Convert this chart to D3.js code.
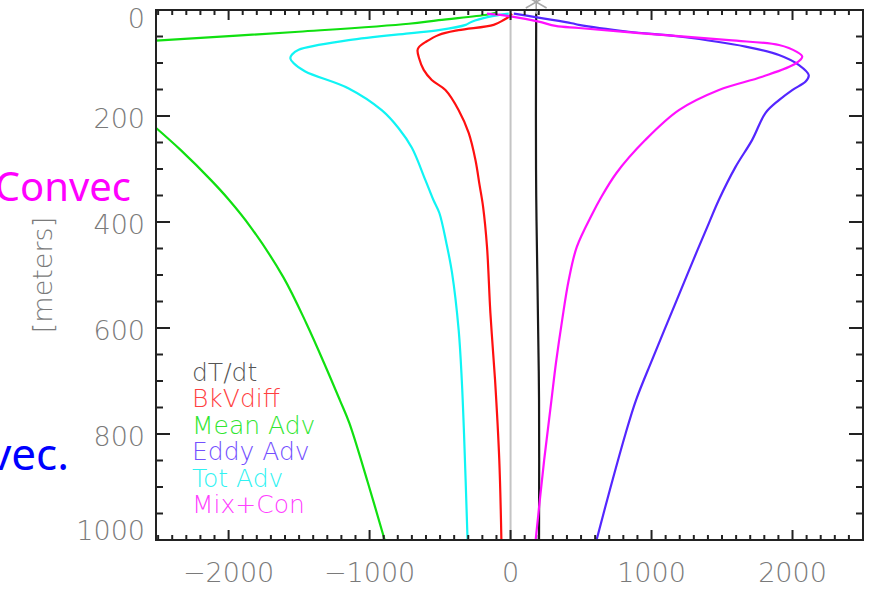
<!DOCTYPE html>
<html>
<head>
<meta charset="utf-8">
<script src="https://cdn.jsdelivr.net/npm/d3@7"></script>
<style>
  html, body { margin: 0; padding: 0; background: #fff; overflow: hidden; }
  svg { display: block; }
</style>
</head>
<body>
<svg id="chart" width="885" height="594"></svg>
<script>
// --- data: [depth (m), value]; null breaks the line where it leaves the frame
const dTdt    = [[5, 182], [200, 180], [350, 182], [500, 190], [736, 202], [1000, 202]];
const bkVdiff = [[7, 10], [13, -13], [19, -50], [28, -120], [38, -370], [47, -510], [60, -600], [70, -650],
                 [76, -660], [90, -650], [113, -616], [132, -559], [151, -462], [189, -368], [232, -297],
                 [283, -249], [330, -220], [371, -195], [447, -167], [572, -143], [698, -110], [849, -80], [1000, -65]];
const meanAdv = [[5, -100], [9, -169], [19, -510], [26, -722], [41, -1503], [58, -2530], [100, null],
                 [219, -2530], [264, -2341], [321, -2125], [358, -1998], [409, -1845], [504, -1612],
                 [591, -1449], [674, -1310], [736, -1211], [779, -1144], [891, -1013], [1000, -893]];
const eddyAdv = [[7, 23], [25, 434], [28, 484], [41, 839], [50, 1194], [69, 1667], [85, 1904], [104, 2046],
                 [123, 2115], [135, 2093], [151, 1998], [170, 1904], [194, 1809], [245, 1714], [296, 1596],
                 [358, 1478], [402, 1407], [477, 1288], [553, 1170], [660, 1004], [736, 890], [800, 815],
                 [900, 710], [1000, 610]];
const totAdv  = [[7, -13], [13, -155], [22, -275], [28, -318], [38, -510], [44, -722], [57, -1148], [75, -1503],
                 [84, -1550], [91, -1562], [100, -1540], [116, -1456], [148, -1148], [189, -914], [223, -794],
                 [260, -700], [321, -604], [358, -548], [383, -505], [440, -455], [496, -415], [604, -368],
                 [698, -346], [800, -330], [1000, -305]];
const mixCon  = [[7, -167], [12, 0], [22, 200], [30, 319], [34, 484], [44, 930], [57, 1549], [66, 1904],
                 [79, 2031], [88, 2069], [101, 2022], [126, 1785], [151, 1478], [189, 1194], [245, 957],
                 [308, 750], [358, 633], [383, 583], [447, 470], [509, 413], [585, 366], [666, 322],
                 [736, 290], [850, 238], [1000, 178]];

const seriesNames  = ["dT/dt", "BkVdiff", "Mean Adv", "Eddy Adv", "Tot Adv", "Mix+Con"];
const seriesData   = [dTdt, bkVdiff, meanAdv, eddyAdv, totAdv, mixCon];
const lineColors   = ["#1a1a1a", "#ff1010", "#10e010", "#5426ff", "#10f4f4", "#ff10ff"];
const legendColors = ["#555555", "#ff4040", "#30e630", "#7450ff", "#30f2f2", "#ff40ff"];

const xTickLabels = [-2000, -1000, 0, 1000, 2000];
const yTickLabels = [0, 200, 400, 600, 800, 1000];

// --- layout
const frame = { left: 156, right: 863, top: 10, bottom: 540 };

const svg = d3.select("#chart");

const x = d3.scaleLinear().domain([-2515, 2500]).range([frame.left, frame.right]);
const y = d3.scaleLinear().domain([0, 1000]).range([frame.top, frame.bottom]);

const axisColor = "#222";
const labelColor = "#7a7a7a";
const labelFont = "'DejaVu Sans', sans-serif";

// side texts from the slide, cut by the left border
svg.append("text")
  .attr("x", 131).attr("y", 201)
  .attr("text-anchor", "end")
  .style("font-family", "'Noto Sans', sans-serif")
  .style("font-size", "40px")
  .style("fill", "#ff00ff")
  .text("Convec");

svg.append("text")
  .attr("x", 69).attr("y", 470)
  .attr("text-anchor", "end")
  .style("font-family", "'Noto Sans', sans-serif")
  .style("font-size", "44px")
  .style("fill", "#0000ff")
  .text("vec.");

// clip for the curves
svg.append("defs").append("clipPath").attr("id", "plotClip")
  .append("rect")
  .attr("x", frame.left).attr("y", frame.top)
  .attr("width", frame.right - frame.left).attr("height", frame.bottom - frame.top);

const plot = svg.append("g").attr("clip-path", "url(#plotClip)");

// zero line
plot.append("line")
  .attr("x1", x(0)).attr("x2", x(0))
  .attr("y1", frame.top).attr("y2", frame.bottom)
  .attr("stroke", "#c4c4c4").attr("stroke-width", 2);

const line = d3.line()
  .defined((d) => d[1] != null)
  .x((d) => x(d[1]))
  .y((d) => y(d[0]))
  .curve(d3.curveCatmullRom.alpha(0.5));

seriesData.forEach((data, i) => {
  plot.append("path")
    .datum(data)
    .attr("d", line)
    .attr("fill", "none")
    .attr("stroke", lineColors[i])
    .attr("stroke-width", 2.2)
    .attr("stroke-linejoin", "round");
});

// asterisk marker at the top of dT/dt
const ast = svg.append("g")
  .attr("transform", `translate(${x(dTdt[0][1])},${frame.top - 8})`)
  .attr("stroke", "#a8a8a8").attr("stroke-width", 1.6);
[0, 60, 120].forEach((a) => {
  const r = 12, t = (a * Math.PI) / 180;
  ast.append("line")
    .attr("x1", -r * Math.sin(t)).attr("y1", -r * Math.cos(t))
    .attr("x2", r * Math.sin(t)).attr("y2", r * Math.cos(t));
});

// --- axes (frame + ticks on all four sides)
const axes = svg.append("g").attr("stroke", axisColor).attr("stroke-width", 2);

axes.append("rect")
  .attr("x", frame.left).attr("y", frame.top)
  .attr("width", frame.right - frame.left).attr("height", frame.bottom - frame.top)
  .attr("fill", "none");

const xMinor = d3.range(-2500, 2501, 100);
xMinor.forEach((v) => {
  const len = v % 1000 === 0 ? 10 : 5;
  axes.append("line").attr("x1", x(v)).attr("x2", x(v))
    .attr("y1", frame.top).attr("y2", frame.top + len);
  axes.append("line").attr("x1", x(v)).attr("x2", x(v))
    .attr("y1", frame.bottom).attr("y2", frame.bottom - len);
});

const yMinor = d3.range(0, 1001, 50);
yMinor.forEach((d) => {
  const len = d % 200 === 0 ? 14 : 7;
  axes.append("line").attr("y1", y(d)).attr("y2", y(d))
    .attr("x1", frame.left).attr("x2", frame.left + len);
  axes.append("line").attr("y1", y(d)).attr("y2", y(d))
    .attr("x1", frame.right).attr("x2", frame.right - len);
});

// thin label style (falls back to the regular face if no light face exists)
function thin(sel, size) {
  return sel
    .style("font-family", labelFont)
    .style("font-size", size + "px")
    .style("font-weight", 200);
}

// tick labels
thin(svg.append("g").selectAll("text")
  .data(xTickLabels)
  .join("text")
  .attr("x", (v) => x(v))
  .attr("y", 582)
  .attr("text-anchor", "middle"), 27)
  .style("fill", labelColor)
  .text((v) => (v < 0 ? "\u2212" + Math.abs(v) : String(v)));

thin(svg.append("g").selectAll("text")
  .data(yTickLabels)
  .join("text")
  .attr("x", 145)
  .attr("y", (d, i) => y(d) + (i === 0 ? 18 : i === yTickLabels.length - 1 ? 0 : 12))
  .attr("text-anchor", "end"), 27)
  .style("fill", labelColor)
  .text((d) => d);

// axis titles
thin(svg.append("text")
  .attr("transform", "translate(52,275) rotate(-90)")
  .attr("text-anchor", "middle"), 27)
  .style("fill", labelColor)
  .text("[meters]");

thin(svg.append("text")
  .attr("x", 512).attr("y", 614)
  .attr("text-anchor", "middle"), 27)
  .style("fill", labelColor)
  .text("[Watts/m²]");

// legend
thin(svg.append("g").selectAll("text")
  .data(seriesNames)
  .join("text")
  .attr("x", 192)
  .attr("y", (d, i) => 381 + i * 26.4), 25)
  .style("fill", (d, i) => legendColors[i])
  .text((d) => d);
</script>
</body>
</html>
